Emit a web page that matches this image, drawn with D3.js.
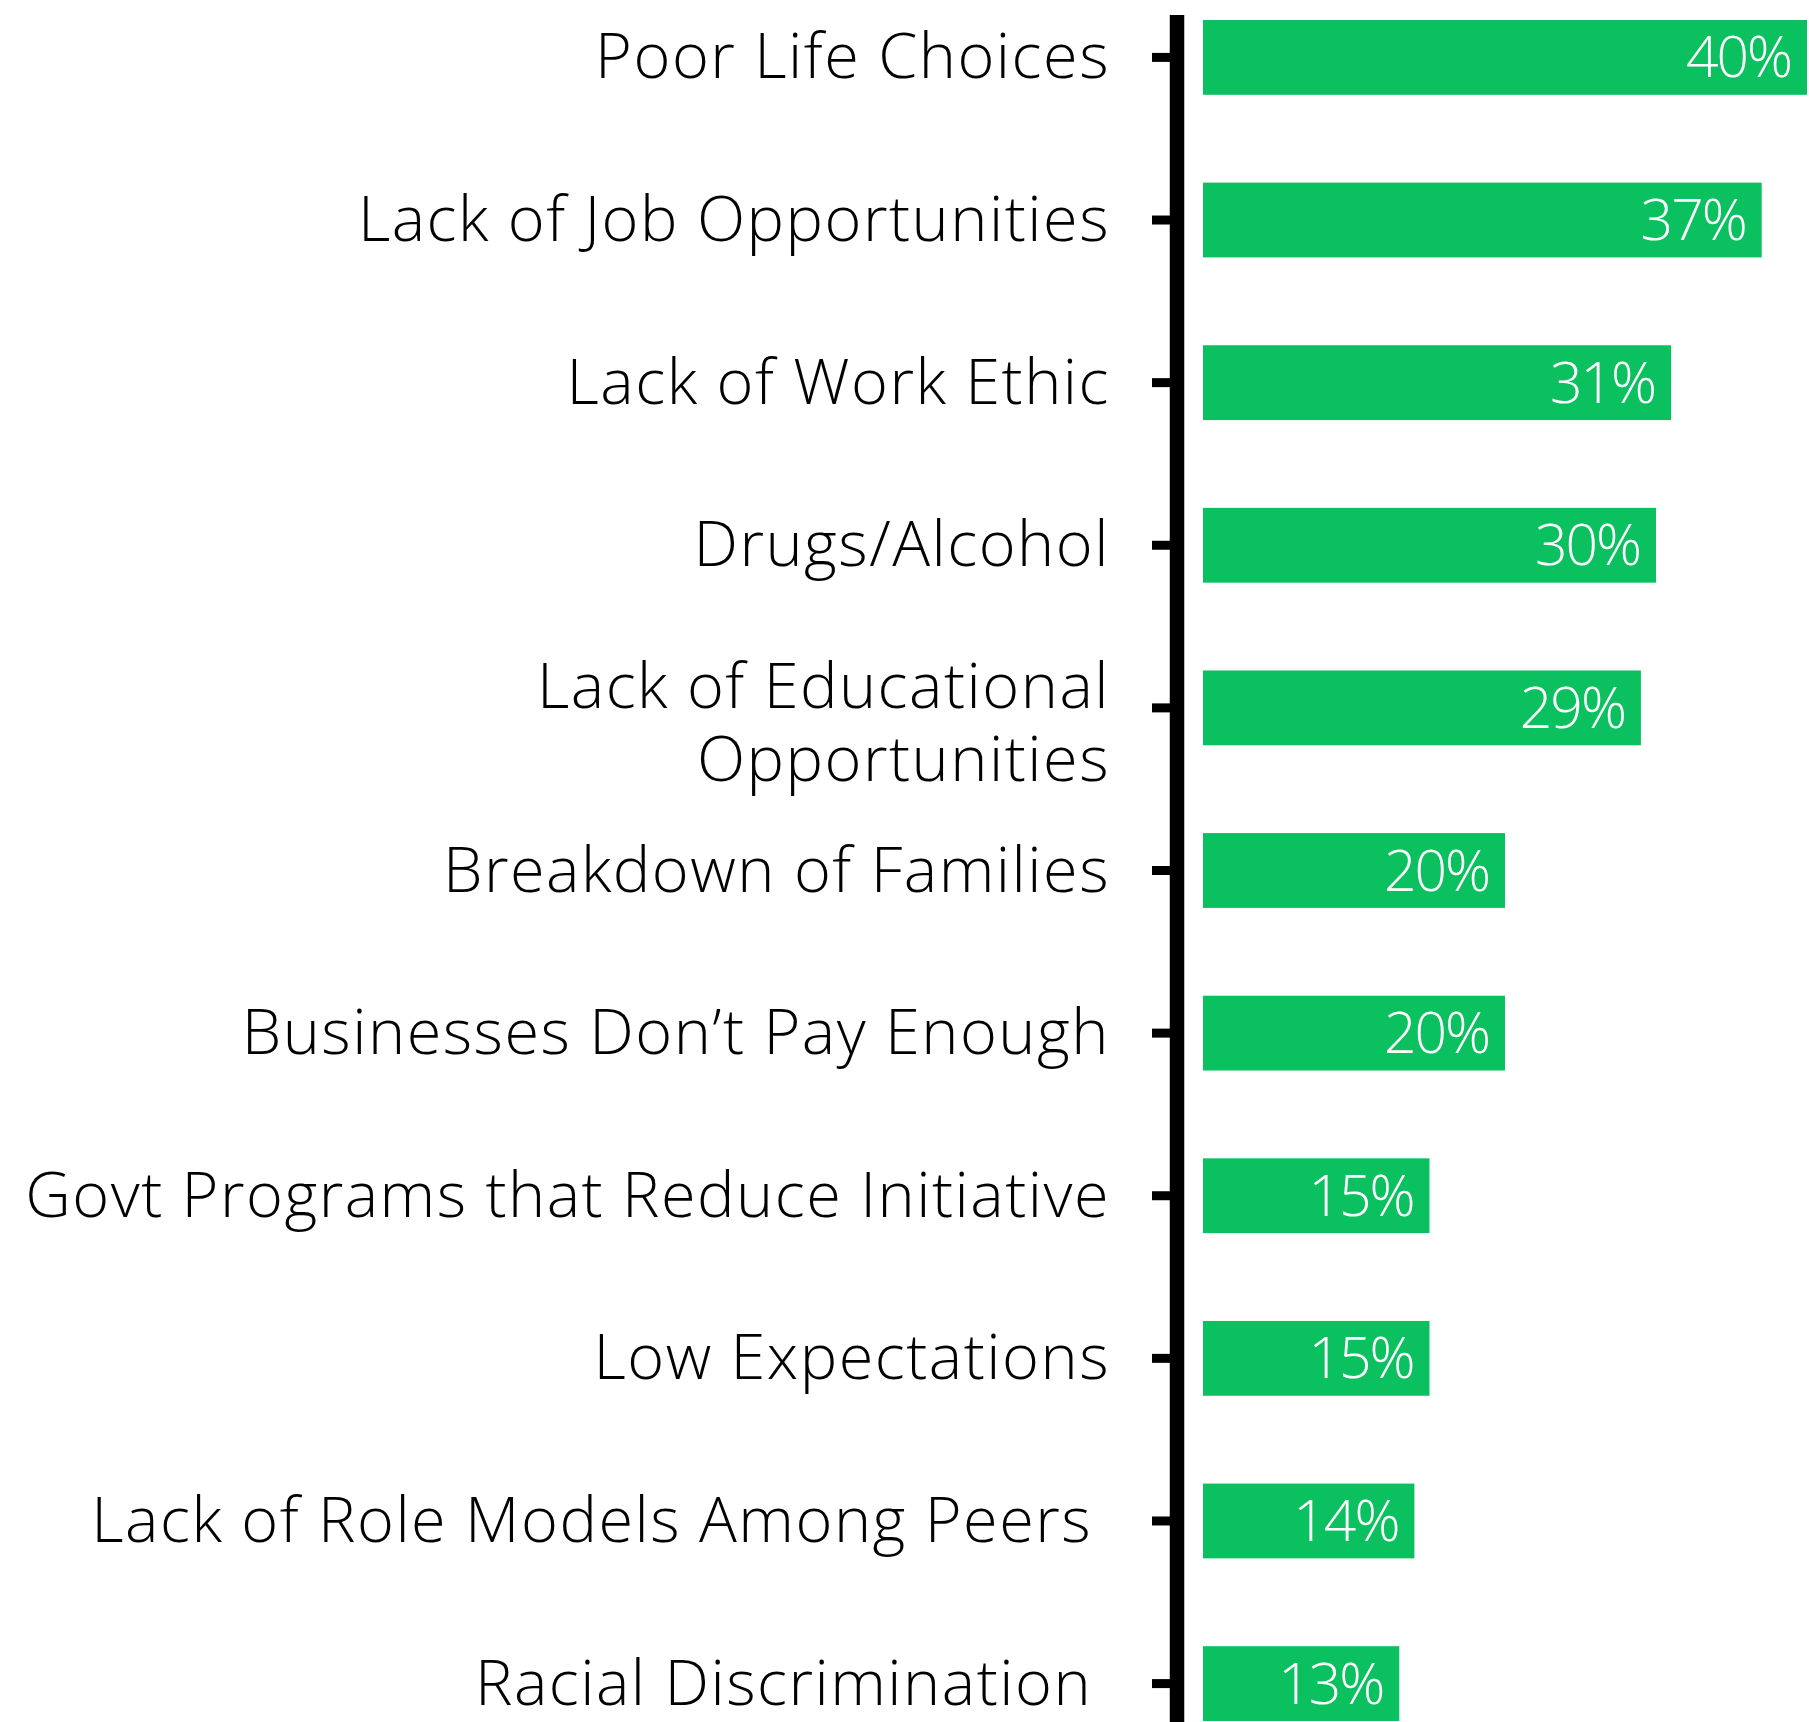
<!DOCTYPE html>
<html>
<head>
<meta charset="utf-8">
<script src="https://cdn.jsdelivr.net/npm/d3@7"></script>
<style>
  html, body { margin: 0; padding: 0; background: #ffffff; }
  svg { display: block; }
  text { white-space: pre; }
</style>
</head>
<body>
<script>
// Reasons people give for poverty — share of respondents naming each cause
const categories = [
  "Poor Life Choices",
  "Lack of Job Opportunities",
  "Lack of Work Ethic",
  "Drugs/Alcohol",
  "Lack of Educational\nOpportunities",
  "Breakdown of Families",
  "Businesses Don\u2019t Pay Enough",
  "Govt Programs that Reduce Initiative",
  "Low Expectations",
  "Lack of Role Models Among Peers ",
  "Racial Discrimination "
];
const values = [40, 37, 31, 30, 29, 20, 20, 15, 15, 14, 13];
const valueLabels = ["40%", "37%", "31%", "30%", "29%", "20%", "20%", "15%", "15%", "14%", "13%"];

const W = 1809, H = 1722;
const labelFont = "'Open Sans', 'Noto Sans', 'Liberation Sans', sans-serif";

const svg = d3.select("body").append("svg")
  .attr("width", W)
  .attr("height", H);

const y = d3.scaleBand()
  .domain(categories)
  .range([20, 1721])
  .paddingInner(0.54)
  .paddingOuter(0);

const x = d3.scaleLinear()
  .domain([0, 40])
  .range([1203, 1807]);

// Bars
svg.append("g").selectAll("rect")
  .data(categories)
  .join("rect")
  .attr("x", x(0))
  .attr("y", d => y(d))
  .attr("width", (d, i) => x(values[i]) - x(0))
  .attr("height", y.bandwidth())
  .attr("fill", "#0bc15f");

// Value labels inside bar ends
svg.append("g").selectAll("text")
  .data(categories)
  .join("text")
  .attr("x", (d, i) => x(values[i]) - 16)
  .attr("y", d => y(d) + y.bandwidth() / 2 + 20)
  .attr("text-anchor", "end")
  .attr("fill", "#ffffff")
  .style("font-family", labelFont)
  .style("font-weight", 300)
  .style("font-size", "57px")
  .style("letter-spacing", "-2px")
  .text((d, i) => valueLabels[i]);

// Category axis: heavy vertical rule with short ticks
const axisX = 1177;
svg.append("line")
  .attr("x1", axisX).attr("x2", axisX)
  .attr("y1", 15).attr("y2", H)
  .attr("stroke", "#000").attr("stroke-width", 14.5);

svg.append("g").selectAll("line")
  .data(categories)
  .join("line")
  .attr("x1", 1152).attr("x2", axisX)
  .attr("y1", d => y(d) + y.bandwidth() / 2)
  .attr("y2", d => y(d) + y.bandwidth() / 2)
  .attr("stroke", "#000").attr("stroke-width", 9);

// Category labels, right aligned against the ticks
const lineGap = 73;
const labels = svg.append("g").selectAll("text")
  .data(categories)
  .join("text")
  .attr("text-anchor", "end")
  .attr("fill", "#000")
  .style("font-family", labelFont)
  .style("font-weight", 300)
  .style("font-size", "63px")
  .style("letter-spacing", "1.5px");

labels.each(function(d) {
  const lines = d.split("\n");
  const cy = y(d) + y.bandwidth() / 2;
  const base = lines.length === 1 ? cy + 21 : cy;
  d3.select(this).selectAll("tspan")
    .data(lines)
    .join("tspan")
    .attr("x", 1110)
    .attr("y", (l, j) => base + j * lineGap)
    .text(l => l);
});
</script>
</body>
</html>
